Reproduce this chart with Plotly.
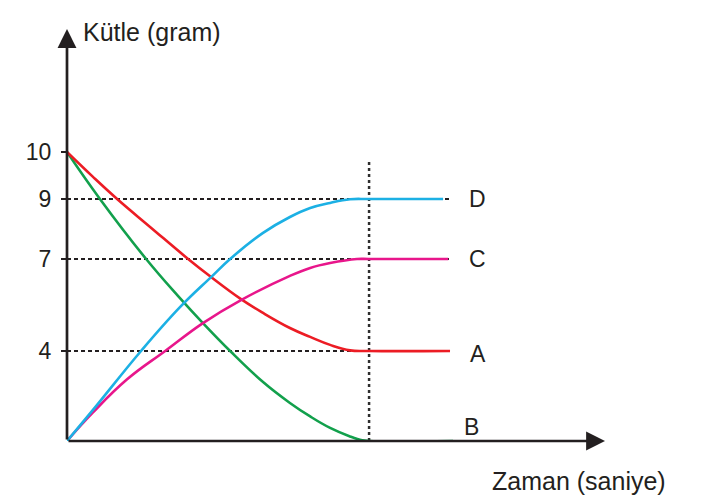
import numpy as np
import plotly.graph_objects as go

# ---- data (time in arbitrary seconds, mass in grams) ----
TIME_A = [0, 0.86, 1.66, 2.75, 4.01, 4.77, 5.76, 6.49, 7.38, 8.05, 8.71, 9.37, 10, 12.68]
MASS_A = [10, 9.47, 9.0, 8.07, 7.0, 6.41, 5.69, 5.24, 4.75, 4.46, 4.20, 4.02, 4, 4]

TIME_B = [0, 1.09, 2.62, 3.68, 4.50, 5.40, 6.49, 7.38, 8.05, 8.71, 9.37, 9.77, 10, 12.78]
MASS_B = [10, 9.0, 7.0, 5.79, 4.91, 4.0, 2.62, 1.69, 1.09, 0.58, 0.20, 0.03, 0, 0]

TIME_C = [0, 0.86, 1.99, 3.25, 4.50, 5.76, 7.38, 8.05, 8.71, 9.60, 10, 12.62]
MASS_C = [0, 1.27, 2.74, 4.0, 4.91, 5.66, 6.45, 6.71, 6.87, 7.0, 7, 7]

TIME_D = [0, 0.86, 2.45, 3.74, 4.77, 5.40, 6.49, 7.38, 8.05, 8.71, 9.37, 10, 12.45]
MASS_D = [0, 1.38, 4.0, 5.43, 6.41, 7.0, 7.87, 8.40, 8.70, 8.87, 8.99, 9, 9]

SERIES_NAMES = ["A", "B", "C", "D"]
TICK_MASS = [0, 4, 7, 9, 10]
TICK_LABELS = ["", "4", "7", "9", "10"]
GUIDE_MASS = [9, 7, 4]
GUIDE_END_TIME = 12.7
MARK_TIME = 10

# the original drawing is a schematic: the mass axis is not drawn to scale.
# drawing heights of each tick above the time axis (in px of the original)
TICK_DRAW = [0, 90, 182, 242, 289]


def disp(m):
    return np.interp(np.asarray(m, dtype=float), TICK_MASS, TICK_DRAW)


INK = "#231f20"
COLORS = {"A": "#ec1c24", "B": "#12a04c", "C": "#e8168b", "D": "#1cb0e4"}
FONT = "Liberation Sans, Arial, sans-serif"

X_MAX = 17.81
Y_MAX = 412

fig = go.Figure()

# dashed guide lines
for gm in GUIDE_MASS:
    fig.add_trace(go.Scatter(
        x=[0, GUIDE_END_TIME], y=disp([gm, gm]), mode="lines",
        line=dict(color=INK, width=1.8, dash="4px,3px"), hoverinfo="skip"))

# dotted vertical line
fig.add_trace(go.Scatter(
    x=[MARK_TIME, MARK_TIME], y=[0, 279], mode="lines",
    line=dict(color="#2e2e2e", width=2.5, dash="3px,3px"), hoverinfo="skip"))

series = {"A": (TIME_A, MASS_A), "B": (TIME_B, MASS_B),
          "C": (TIME_C, MASS_C), "D": (TIME_D, MASS_D)}
for name in ["B", "A", "C", "D"]:
    t, m = series[name]
    fig.add_trace(go.Scatter(
        x=t, y=disp(m), mode="lines", name=name,
        line=dict(color=COLORS[name], width=2.6, shape="spline", smoothing=1.2),
        hoverinfo="skip"))

annotations = []
# axes with arrow heads
annotations.append(dict(x=X_MAX, y=0, ax=0, ay=0, xref="x", yref="y", axref="x", ayref="y",
                        text="", showarrow=True, arrowhead=2, arrowsize=1.4,
                        arrowwidth=2.7, arrowcolor=INK))
annotations.append(dict(x=0, y=Y_MAX, ax=0, ay=0, xref="x", yref="y", axref="x", ayref="y",
                        text="", showarrow=True, arrowhead=2, arrowsize=1.4,
                        arrowwidth=2.7, arrowcolor=INK))

# series labels
label_pos = {"D": (13.6, 9, 0), "C": (13.6, 7, 0), "A": (13.6, 4, -3), "B": (13.4, 0, 14)}
for name in SERIES_NAMES:
    lx, lm, ys = label_pos[name]
    annotations.append(dict(x=lx, y=float(disp(lm)), xref="x", yref="y", text=name,
                            showarrow=False, yshift=ys,
                            font=dict(family=FONT, size=23, color=INK)))

# axis titles
annotations.append(dict(x=0.45, y=Y_MAX - 3, xref="x", yref="y", text="Kütle (gram)",
                        showarrow=False, xanchor="left", yanchor="middle",
                        font=dict(family=FONT, size=25, color=INK)))
annotations.append(dict(x=1.0, y=-40 / Y_MAX, xref="paper", yref="paper", text="Zaman (saniye)",
                        showarrow=False, xanchor="right", yanchor="middle", xshift=63,
                        font=dict(family=FONT, size=25, color=INK)))

fig.update_layout(
    width=703, height=501,
    margin=dict(l=67, r=98, t=29, b=60),
    paper_bgcolor="white", plot_bgcolor="white",
    showlegend=False,
    annotations=annotations,
    xaxis=dict(range=[0, X_MAX], visible=False, showgrid=False, zeroline=False),
    yaxis=dict(range=[0, Y_MAX], showgrid=False, zeroline=False, showline=False,
               tickvals=list(disp(TICK_MASS[1:])), ticktext=TICK_LABELS[1:],
               ticks="outside", ticklen=5, tickwidth=2, tickcolor=INK,
               ticklabelstandoff=5,
               tickfont=dict(family=FONT, size=23, color=INK)),
)

fig.write_html("out.html")
